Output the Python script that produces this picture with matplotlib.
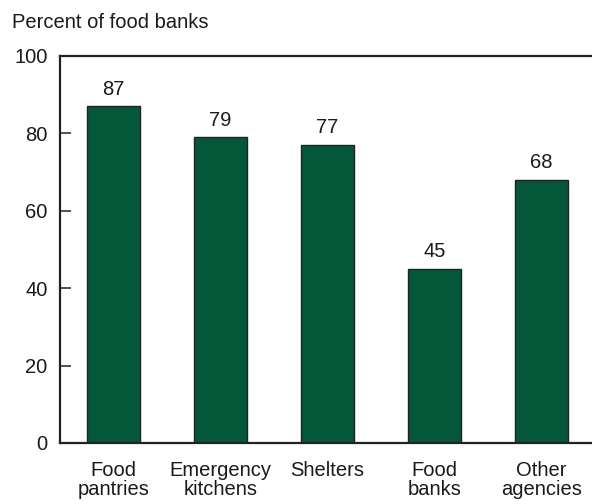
import matplotlib
matplotlib.use("Agg")
import matplotlib.pyplot as plt

# data
categories = ["Food\npantries", "Emergency\nkitchens", "Shelters", "Food\nbanks", "Other\nagencies"]
values = [87, 79, 77, 45, 68]
yticks = [0, 20, 40, 60, 80, 100]

plt.rcParams['font.family'] = ['Liberation Sans', 'DejaVu Sans']
fs = 14.5

fig = plt.figure(figsize=(5.92, 5.04), dpi=100, facecolor='w')
ax = fig.add_axes([60/592, 1 - 443/504, 532/592, (443 - 56)/504])

x = range(len(categories))
ax.bar(x, values, width=0.5, color='#05573a', edgecolor='#222222', linewidth=1.0, zorder=2)
for xi, v in zip(x, values):
    ax.text(xi, v + 2.0, str(v), ha='center', va='bottom', fontsize=fs, color='#1a1a1a')

ax.set_xlim(-0.5, 4.47)
ax.set_ylim(0, 100)
ax.set_yticks(yticks)
ax.set_yticklabels([str(t) for t in yticks], fontsize=fs, color='#1a1a1a')
ax.set_xticks(list(x))
ax.set_xticklabels(categories, fontsize=fs, color='#1a1a1a', linespacing=1.0)
ax.tick_params(axis='x', length=0, pad=13)
ax.tick_params(axis='y', direction='in', length=8, width=1.2, color='#333333', pad=9)

ax.spines['right'].set_visible(False)
for s in ['left', 'top', 'bottom']:
    ax.spines[s].set_linewidth(1.6)
    ax.spines[s].set_color('#222222')

fig.text(12/592, 1 - 22/504, "Percent of food banks", fontsize=fs, color='#1a1a1a', va='center', ha='left')

fig.savefig("out.png", dpi=100)
